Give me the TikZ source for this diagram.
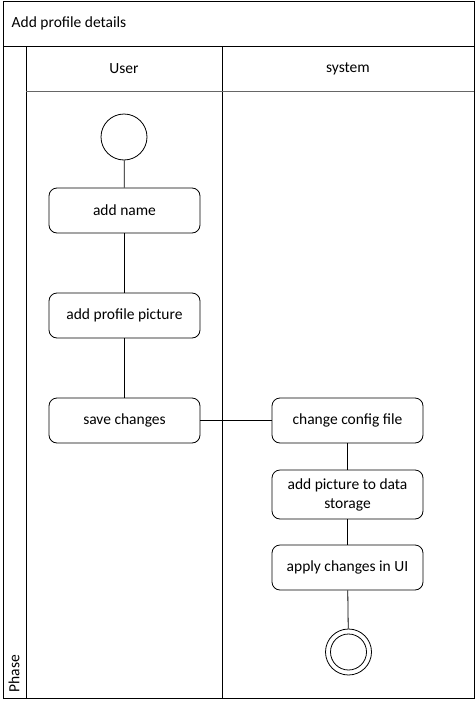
\documentclass[tikz,border=0pt]{standalone}
\usepackage{fontspec}
\setmainfont{Carlito}
\begin{document}
\begin{tikzpicture}[x=1pt,y=-1pt,line width=0.8pt,
  every node/.style={font=\fontsize{15.5}{19}\selectfont},
  act/.style={draw,rounded corners=8pt,minimum width=151pt,minimum height=45pt,align=center}]
\useasboundingbox (0,0) rectangle (476,704);
\fill[white] (0,0) rectangle (476,704);
% pool and lanes
\draw[line width=1pt] (3,1) rectangle (474,698);
\draw[line width=1pt] (3,46) -- (474,46);
\draw (26,46) -- (26,698);
\draw (222,46) -- (222,698);
\draw[gray!80!black] (26,91) -- (474,91);
\node[anchor=west] (title) at (8,23) {Add profile details};
\node (user) at (124,69) {User};
\node (system) at (348,69) {system};
\node[rotate=90,anchor=west] (phase) at (14,696) {Phase};
% user lane
\node[draw,circle,minimum size=46pt,inner sep=0pt] (start) at (124,137) {};
\node[act] (name) at (124.5,210.5) {add name};
\node[act] (picture) at (124.5,315.5) {add profile picture};
\node[act] (save) at (124.5,420.5) {save changes};
% system lane
\node[act] (config) at (347.5,420.5) {change config file};
\node[act,minimum height=49pt] (storage) at (347.5,494.5) {add picture to data\\storage};
\node[act] (apply) at (347.5,567.5) {apply changes in UI};
\node[draw,circle,minimum size=46pt,inner sep=0pt] (end) at (348.5,652) {};
\draw (end.center) circle (18pt);
%\node[] at (348,700) {};
\draw (start) -- (name);
\draw (name) -- (picture);
\draw (picture) -- (save);
\draw (save) -- (config);
\draw (config) -- (storage);
\draw (storage) -- (apply);
\draw (apply) -- (end);
\end{tikzpicture}
\end{document}
